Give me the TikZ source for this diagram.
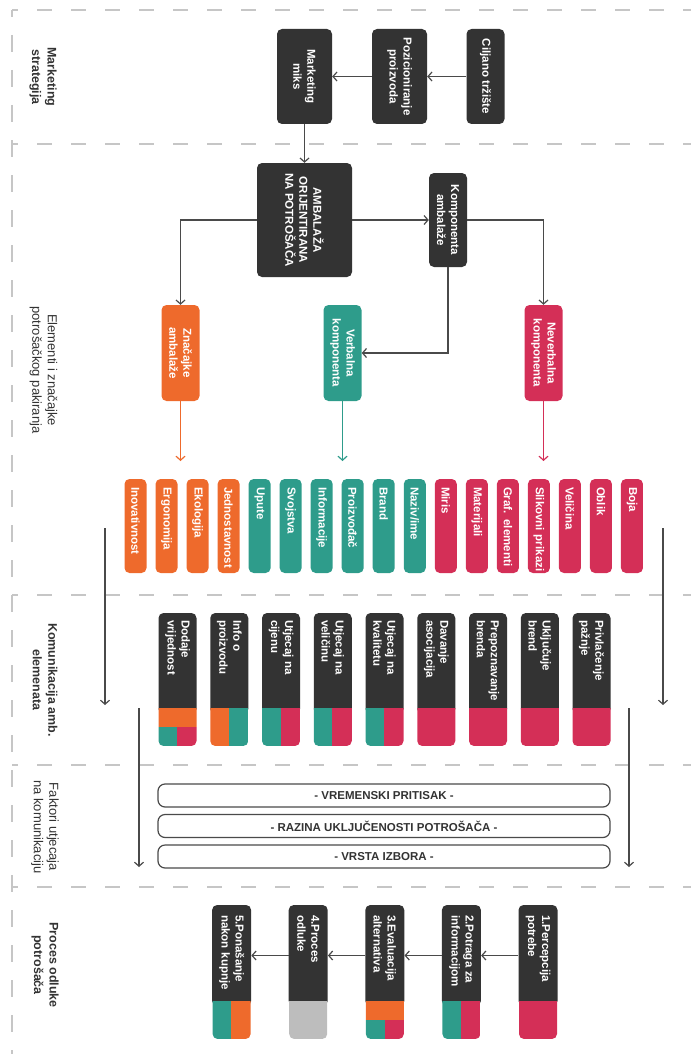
\documentclass[tikz,border=0pt]{standalone}
\usepackage{fontspec}
\setmainfont{Liberation Sans}
\usetikzlibrary{arrows.meta}

\definecolor{cDark}{HTML}{333333}
\definecolor{cOrange}{HTML}{EE6A2C}
\definecolor{cTeal}{HTML}{2E9C8B}
\definecolor{cRed}{HTML}{D42F57}
\definecolor{cGray}{HTML}{BDBDBD}
\definecolor{cLine}{HTML}{4A4A4A}
\definecolor{cSep}{HTML}{C6C6C6}

\tikzset{
  boxfont/.style={font=\bfseries\fontsize{11.5}{14}\selectfont},
  cbox/.style={rotate=-90, boxfont, text=white, fill=cDark, rounded corners=5pt,
    inner sep=0pt, align=center},
  tbox/.style={rotate=-90, boxfont, text=white, fill=cDark, rounded corners=5pt,
    inner ysep=0pt, align=left},
  fbox/.style={draw=cLine, line width=1.2pt, fill=white, rounded corners=7pt,
    minimum width=452pt, minimum height=23pt, inner sep=0pt, text=cDark,
    font=\bfseries\fontsize{11.5}{13}\selectfont},
  seclab/.style={rotate=-90, align=center, text=cDark, inner sep=0pt},
  ln/.style={draw=cLine, line width=1.2pt},
  arr/.style={ln, -{Straight Barb[length=4pt,width=9pt]}},
  sepline/.style={draw=cSep, line width=2pt, dash pattern=on 15pt off 19pt, dash phase=9pt},
  vsepline/.style={draw=cSep, line width=2pt, dash pattern=on 17pt off 18pt, dash phase=10pt}
}

% coloured foot of a box: x-centre, box top, colour start, box bottom, 4 quarters
\newcommand{\cfoot}[8]{%
  \begin{scope}
    \clip[rounded corners=5pt] ({#1-19},#2) rectangle ({#1+19},#4);
    \fill[#5] ({#1-20},#3) rectangle ({#1+0.3},{(#3+#4)/2+0.3});
    \fill[#6] ({#1-0.3},#3) rectangle ({#1+20},{(#3+#4)/2+0.3});
    \fill[#7] ({#1-20},{(#3+#4)/2}) rectangle ({#1+0.3},#4);
    \fill[#8] ({#1-0.3},{(#3+#4)/2}) rectangle ({#1+20},#4);
  \end{scope}}

\begin{document}
\begin{tikzpicture}[x=1pt,y=-1pt]
  \useasboundingbox (0,0) rectangle (691,1054);

  % section separators
  \draw[vsepline] (12,10) -- (12,1054);
  \foreach \y in {10,144,595,765,887}
    \draw[sepline] (12,\y) -- (691,\y);

  % section labels
  \node[seclab, font=\bfseries\fontsize{12.5}{15.5}\selectfont] (lab1) at (43,77) {Marketing\\strategija};
  \node[seclab, font=\fontsize{13}{15.5}\selectfont] (lab2) at (43.5,370) {Elementi i značajke\\potrošačkog pakiranja};
  \node[seclab, font=\bfseries\fontsize{12.5}{15.5}\selectfont] (lab3) at (45,680) {Komunikacija amb.\\elemenata};
  \node[seclab, font=\fontsize{13}{15.5}\selectfont] (lab4) at (45,827) {Faktori utjecaja\\na komunikaciju};
  \node[seclab, font=\bfseries\fontsize{12.5}{15.5}\selectfont] (lab5) at (45,965) {Proces odluke\\potrošača};

  % marketing strategy
  \node[cbox, minimum width=95pt, minimum height=38pt] (cilj) at (485.5,76.5) {Ciljano tržište};
  \node[cbox, minimum width=95pt, minimum height=55pt] (pozi) at (399.5,76.5) {Pozicioniranje\\proizvoda};
  \node[cbox, minimum width=95pt, minimum height=55pt] (miks) at (304.5,76.5) {Marketing\\miks};
  \draw[arr] (cilj) -- (pozi);
  \draw[arr] (pozi) -- (miks);

  % packaging elements
  \node[cbox, minimum width=114pt, minimum height=95pt] (amb) at (304.5,220) {AMBALAŽA\\ORIJENTIRANA\\NA POTROŠAČA};
  \node[cbox, minimum width=94pt, minimum height=38pt] (komp) at (448,220) {Komponenta\\ambalaže};
  \node[cbox, fill=cOrange, minimum width=96pt, minimum height=38pt] (znac) at (180.5,353) {Značajke\\ambalaže};
  \node[cbox, fill=cTeal, minimum width=96pt, minimum height=38pt] (verb) at (342.5,353) {Verbalna\\komponenta};
  \node[cbox, fill=cRed, minimum width=96pt, minimum height=38pt] (nevb) at (543.5,353) {Neverbalna\\komponenta};
  \draw[arr] (miks) -- (amb);
  \draw[arr] (amb) -- (komp);
  \draw[arr] (amb) -| (znac);
  \draw[arr] (komp) |- (verb);
  \draw[arr] (komp) -| (nevb);

  \coordinate (znacEnd) at (180.5,461);
  \coordinate (verbEnd) at (342.5,461);
  \coordinate (nevbEnd) at (543.5,461);
  \draw[arr, draw=cOrange] (znac) -- (znacEnd);
  \draw[arr, draw=cTeal] (verb) -- (verbEnd);
  \draw[arr, draw=cRed] (nevb) -- (nevbEnd);

  \foreach \t/\c [count=\i from 0, evaluate=\i as \x using 135.5+31.03*\i] in
    {Inovativnost/cOrange, Ergonomija/cOrange, Ekologija/cOrange, Jednostavnost/cOrange,
     Upute/cTeal, Svojstva/cTeal, Informacije/cTeal, Proizvođač/cTeal, Brand/cTeal, {Naziv/ime}/cTeal,
     Miris/cRed, Materijali/cRed, Graf. elementi/cRed, Slikovni prikazi/cRed,
     Veličina/cRed, Oblik/cRed, Boja/cRed}
    \node[tbox, fill=\c, inner xsep=8pt, text width=78pt, minimum height=22pt] (e\i) at (\x,526) {\mbox{\t}};

  % side lines
  \coordinate (l1a) at (105,528);
  \coordinate (l1b) at (105,705);
  \coordinate (r1a) at (663,528);
  \coordinate (r1b) at (663,705);
  \coordinate (l2a) at (139,708);
  \coordinate (l2b) at (139,867);
  \coordinate (r2a) at (629,708);
  \coordinate (r2b) at (629,867);
  \draw[arr] (l1a) -- (l1b);
  \draw[arr] (r1a) -- (r1b);
  \draw[arr] (l2a) -- (l2b);
  \draw[arr] (r2a) -- (r2b);

  % communication of elements
  \foreach \t/\ul/\ur/\ll/\lr [count=\i from 0, evaluate=\i as \x using 177.5+51.75*\i] in
    {{Dodaje\\vrijednost}/cOrange/cOrange/cTeal/cRed,
     {Info o\\proizvodu}/cOrange/cTeal/cOrange/cTeal,
     {Utjecaj na\\cijenu}/cTeal/cRed/cTeal/cRed,
     {Utjecaj na\\veličinu}/cTeal/cRed/cTeal/cRed,
     {Utjecaj na\\kvalitetu}/cTeal/cRed/cTeal/cRed,
     {Davanje\\asocijacija}/cRed/cRed/cRed/cRed,
     {Prepoznavanje\\brenda}/cRed/cRed/cRed/cRed,
     {Uključuje\\brend}/cRed/cRed/cRed/cRed,
     {Privlačenje\\pažnje}/cRed/cRed/cRed/cRed}
  {
    \node[tbox, inner xsep=7pt, text width=87pt, minimum height=38pt] (k\i) at (\x,663.5) {\t};
    \cfoot{\x}{613}{708}{746}{\ul}{\ur}{\ll}{\lr}
  }

  % factors
  \node[fbox] (f1) at (384,795.5) {- VREMENSKI PRITISAK -};
  \node[fbox] (f2) at (384,826) {- RAZINA UKLJUČENOSTI POTROŠAČA -};
  \node[fbox] (f3) at (384,856.5) {- VRSTA IZBORA -};

  % decision process
  \foreach \t/\ul/\ur/\ll/\lr [count=\i, evaluate=\i as \x using 614.6-76.6*\i] in
    {{1.Percepcija\\potrebe}/cRed/cRed/cRed/cRed,
     {2.Potraga za\\informacijom}/cTeal/cRed/cTeal/cRed,
     {3.Evaluacija\\alternativa}/cOrange/cOrange/cTeal/cRed,
     {4.Proces\\odluke}/cGray/cGray/cGray/cGray,
     {5.Ponašanje\\nakon kupnje}/cTeal/cOrange/cTeal/cOrange}
  {
    \node[tbox, inner xsep=10pt, text width=81pt, minimum height=39pt] (p\i) at (\x,955.5) {\t};
    \cfoot{\x}{905}{1001}{1039}{\ul}{\ur}{\ll}{\lr}
  }
  \foreach \a/\b in {1/2,2/3,3/4,4/5}
    \draw[arr] (p\a) -- (p\b);
\end{tikzpicture}
\end{document}
